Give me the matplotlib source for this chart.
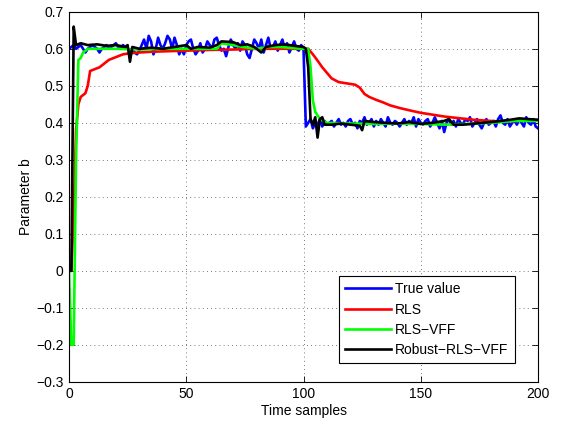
import numpy as np
import matplotlib
matplotlib.use("Agg")
import matplotlib.pyplot as plt

plt.rcParams['font.family'] = ['Liberation Sans', 'DejaVu Sans']
plt.rcParams['font.size'] = 10

# true parameter value (noisy), one value per time sample 0..200
true_value = [
    0.60, 0.605, 0.61, 0.60, 0.605, 0.61, 0.60, 0.59, 0.60, 0.605, 0.61,
    0.605, 0.60, 0.59, 0.60, 0.605, 0.61, 0.60, 0.605, 0.61, 0.615,
    0.605, 0.60, 0.61, 0.605, 0.60, 0.595, 0.60, 0.59, 0.585, 0.595,
    0.61, 0.625, 0.60, 0.635, 0.62, 0.585, 0.60, 0.63, 0.61, 0.60,
    0.615, 0.635, 0.625, 0.60, 0.63, 0.61, 0.585, 0.60, 0.585, 0.61,
    0.62, 0.625, 0.60, 0.585, 0.595, 0.615, 0.59, 0.60, 0.62, 0.61,
    0.60, 0.625, 0.63, 0.61, 0.595, 0.60, 0.58, 0.605, 0.625, 0.61,
    0.60, 0.615, 0.595, 0.62, 0.61, 0.585, 0.575, 0.60, 0.625, 0.615,
    0.60, 0.625, 0.59, 0.61, 0.63, 0.60, 0.605, 0.62, 0.595, 0.61,
    0.625, 0.60, 0.615, 0.59, 0.605, 0.62, 0.60, 0.595, 0.61, 0.60,
    0.39, 0.40, 0.41, 0.385, 0.40, 0.395, 0.41, 0.39, 0.405, 0.395,
    0.40, 0.405, 0.39, 0.40, 0.41, 0.395, 0.40, 0.39, 0.405, 0.41,
    0.395, 0.40, 0.385, 0.405, 0.40, 0.415, 0.395, 0.40, 0.41, 0.39,
    0.405, 0.395, 0.41, 0.40, 0.39, 0.415, 0.40, 0.395, 0.405, 0.40,
    0.39, 0.40, 0.41, 0.395, 0.405, 0.40, 0.415, 0.39, 0.41, 0.40,
    0.395, 0.405, 0.41, 0.39, 0.40, 0.415, 0.40, 0.385, 0.405, 0.375,
    0.40, 0.41, 0.395, 0.405, 0.39, 0.41, 0.40, 0.395, 0.41, 0.405,
    0.415, 0.39, 0.40, 0.41, 0.395, 0.385, 0.40, 0.41, 0.395, 0.40,
    0.405, 0.39, 0.41, 0.42, 0.40, 0.395, 0.41, 0.39, 0.40, 0.405,
    0.395, 0.41, 0.40, 0.39, 0.415, 0.40, 0.395, 0.41, 0.39, 0.385,
]
t_true = list(range(len(true_value)))

# RLS estimate (read at key samples)
t_rls = [0, 1, 2, 3, 4, 5, 6, 7, 8, 9, 11, 13, 15, 17, 19, 21, 23, 26, 30, 35,
         40, 50, 60, 70, 80, 90, 100, 102, 104, 106, 108, 110, 112, 115, 118,
         122, 124, 126, 128, 131, 134, 137, 141, 145, 150, 154, 160, 167, 173,
         180, 185, 190, 195, 200]
rls = [0, 0, 0.15, 0.38, 0.45, 0.47, 0.475, 0.48, 0.50, 0.54, 0.545, 0.55, 0.56,
       0.57, 0.575, 0.58, 0.585, 0.588, 0.59, 0.592, 0.593, 0.595, 0.597, 0.598,
       0.60, 0.60, 0.60, 0.60, 0.585, 0.568, 0.55, 0.535, 0.52, 0.51, 0.507,
       0.503, 0.495, 0.478, 0.47, 0.462, 0.455, 0.447, 0.44, 0.434, 0.427,
       0.423, 0.417, 0.412, 0.408, 0.405, 0.403, 0.405, 0.407, 0.408]

# RLS-VFF estimate
t_vff = [0, 1, 2, 3, 4, 5, 6, 7, 8, 12, 20, 30, 40, 50, 60, 63, 65, 70, 74, 80,
         85, 90, 100, 102, 103, 104, 105, 107, 110, 120, 130, 140, 150, 160, 170,
         180, 190, 200]
vff = [0, -0.2, -0.2, 0.3, 0.57, 0.575, 0.59, 0.595, 0.60, 0.60, 0.60, 0.598,
       0.60, 0.60, 0.60, 0.60, 0.615, 0.61, 0.605, 0.60, 0.605, 0.605, 0.60,
       0.60, 0.55, 0.46, 0.43, 0.41, 0.40, 0.398, 0.397, 0.398, 0.397, 0.395,
       0.397, 0.40, 0.405, 0.405]

# Robust-RLS-VFF estimate
t_rob = [0, 1, 2, 3, 5, 8, 12, 16, 20, 24, 25, 26, 27, 30, 35, 40, 45, 50, 52,
         55, 60, 63, 65, 70, 73, 76, 79, 82, 84, 88, 92, 96, 100, 101, 102, 103,
         104, 105, 106, 107, 108, 109, 112, 116, 120, 124, 125, 126, 130, 135,
         140, 145, 150, 155, 160, 162, 164, 168, 172, 176, 180, 184, 188, 192,
         196, 200]
robust = [0, 0, 0.66, 0.61, 0.615, 0.61, 0.612, 0.608, 0.61, 0.605, 0.61, 0.565,
          0.605, 0.60, 0.603, 0.60, 0.605, 0.61, 0.60, 0.605, 0.603, 0.61, 0.62,
          0.618, 0.61, 0.612, 0.605, 0.59, 0.605, 0.61, 0.612, 0.608, 0.605, 0.60,
          0.55, 0.41, 0.395, 0.415, 0.36, 0.41, 0.415, 0.395, 0.395, 0.398, 0.395,
          0.392, 0.38, 0.405, 0.402, 0.40, 0.398, 0.402, 0.397, 0.40, 0.405, 0.41,
          0.395, 0.395, 0.397, 0.40, 0.402, 0.405, 0.408, 0.412, 0.41, 0.408]

x_ticks = [0, 50, 100, 150, 200]
y_ticks = [-0.3, -0.2, -0.1, 0, 0.1, 0.2, 0.3, 0.4, 0.5, 0.6, 0.7]
y_labels = ['\u22120.3', '\u22120.2', '\u22120.1', '0', '0.1', '0.2', '0.3',
            '0.4', '0.5', '0.6', '0.7']

fig = plt.figure(figsize=(5.61, 4.21), dpi=100)
ax = fig.add_axes([0.123, 0.093, 0.836, 0.879])

lw = 1.9
ax.plot(t_true, true_value, color=(0, 0, 1), lw=lw, label='True value')
ax.plot(t_rls, rls, color=(1, 0, 0), lw=lw, label='RLS')
ax.plot(t_vff, vff, color=(0, 1, 0), lw=lw, label='RLS\u2212VFF')
ax.plot(t_rob, robust, color='black', lw=lw, label='Robust\u2212RLS\u2212VFF')

ax.set_xlim(0, 200)
ax.set_ylim(-0.3, 0.7)
ax.set_xticks(x_ticks)
ax.set_xticklabels([str(v) for v in x_ticks])
ax.set_yticks(y_ticks)
ax.set_yticklabels(y_labels)
ax.tick_params(direction='in', top=True, right=True, length=4, width=0.6, pad=4)
for s in ax.spines.values():
    s.set_linewidth(0.8)
ax.grid(True, color='0.3', linestyle=(0, (1, 4)), linewidth=0.6)

ax.set_xlabel('Time samples', labelpad=2)
ax.set_ylabel('Parameter b', labelpad=2)

leg = ax.legend(loc='lower right', bbox_to_anchor=(0.95, 0.05), fancybox=False,
                framealpha=1, edgecolor='black', handlelength=3.3, borderpad=0.45,
                labelspacing=0.45, handletextpad=0.3, borderaxespad=0)
leg.get_frame().set_linewidth(0.8)

fig.savefig('out.png', dpi=100)
